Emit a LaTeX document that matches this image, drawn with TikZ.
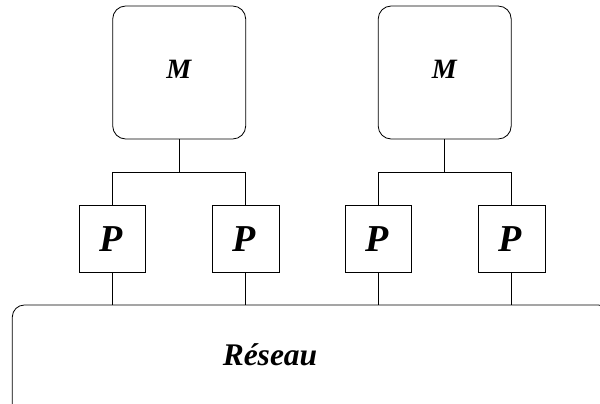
\documentclass[tikz,border=0pt]{standalone}
\usepackage{fontspec}
\setmainfont{Liberation Serif}
\usetikzlibrary{calc}
\begin{document}
\begin{tikzpicture}[x=1pt,y=-1pt,
  line width=0.8pt,
  mbox/.style={draw,rounded corners=13pt,minimum width=133pt,minimum height=133pt,inner sep=0pt},
  pbox/.style={draw,minimum width=66.5pt,minimum height=66.7pt,inner sep=0pt},
  netbox/.style={draw,rounded corners=12pt,minimum width=598pt,minimum height=111pt,inner sep=0pt},
  lbl/.style={anchor=base,inner sep=0pt}]
\useasboundingbox (0,0) rectangle (600,404);
\node[mbox] (m1) at (179.2,72.5) {};
\node[mbox] (m2) at (444.7,72.5) {};
\node[lbl,font=\fontsize{28}{30}\selectfont\bfseries\itshape] (tm1) at (178.7,78.3) {M};
\node[lbl,font=\fontsize{28}{30}\selectfont\bfseries\itshape] (tm2) at (444.2,78.3) {M};
\node[pbox] (p1) at (112.5,239) {};
\node[pbox] (p2) at (245.7,239) {};
\node[pbox] (p3) at (378.3,239) {};
\node[pbox] (p4) at (511.7,239) {};
\foreach \i in {1,2,3,4}{
  \node[lbl,font=\fontsize{38}{40}\selectfont\bfseries\itshape] (tp\i) at ($(p\i.center)+(-1.5,12.7)$) {P};
}
\node[netbox] (net) at (311.3,360.5) {};
\node[lbl,font=\fontsize{31.5}{34}\selectfont\bfseries\itshape] (tnet) at (270,365) {Réseau};
\coordinate (j1) at (179.2,172.3);
\coordinate (j2) at (444.7,172.3);
\draw (m1.south) -- (j1);
\draw (m2.south) -- (j2);
\draw (p1.north) |- (j1) -| (p2.north);
\draw (p3.north) |- (j2) -| (p4.north);
\foreach \i in {1,2,3,4}{
  \draw (p\i.south) -- (p\i.south |- net.north);
}
\end{tikzpicture}
\end{document}
